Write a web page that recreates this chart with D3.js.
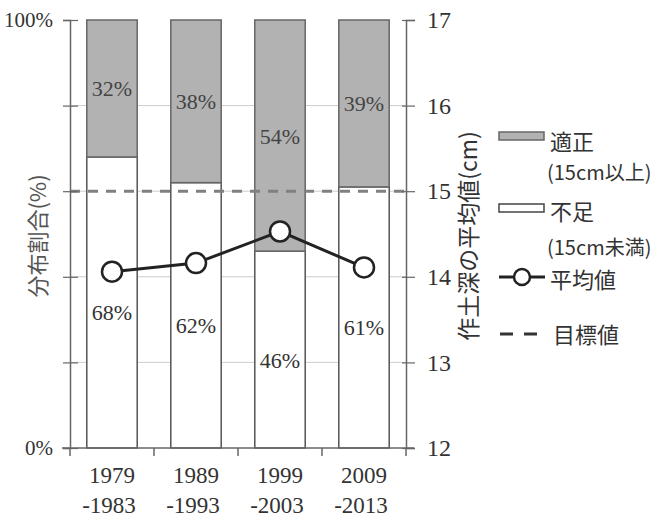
<!DOCTYPE html>
<html lang="ja">
<head>
<meta charset="UTF-8">
<title>作土深の分布割合と平均値</title>
<script src="https://d3js.org/d3.v7.min.js"></script>
<style>
  body { margin: 0; background: #fff; }
  svg { display: block; }
</style>
</head>
<body>
<svg id="chart" width="664" height="518"></svg>
<script>
  // data
  const periods = [["1979", "-1983"], ["1989", "-1993"], ["1999", "-2003"], ["2009", "-2013"]];
  const shortage = [68, 62, 46, 61];   // 不足 (15cm未満) %
  const adequate = [32, 38, 54, 39];   // 適正 (15cm以上) %
  const meanDepth = [14.06, 14.16, 14.53, 14.11]; // 平均値 cm
  const target = 15;                   // 目標値 cm
  const leftTicks = [0, 20, 40, 60, 80, 100];
  const rightTicks = [12, 13, 14, 15, 16, 17];

  const serif = "'Liberation Serif', 'Times New Roman', serif";
  const jp = "'Noto Sans CJK JP', sans-serif";

  const svg = d3.select("#chart");
  const plotL = 70, plotR = 406, plotT = 20, plotB = 448;

  const x = d3.scaleBand().domain(periods.map(d => d[0]))
    .range([plotL, plotR]).paddingInner(0.4).paddingOuter(0.2);
  const yPct = d3.scaleLinear().domain([0, 100]).range([plotB, plotT]);
  const yCm = d3.scaleLinear().domain([12, 17]).range([plotB, plotT]);

  // faint gridlines
  svg.append("g").selectAll("line").data(leftTicks.slice(1, -1)).join("line")
    .attr("x1", plotL).attr("x2", plotR)
    .attr("y1", d => yPct(d)).attr("y2", d => yPct(d))
    .attr("stroke", "#cccccc").attr("stroke-width", 1);

  // stacked bars
  const bars = svg.append("g");
  periods.forEach((p, i) => {
    const bx = x(p[0]), bw = x.bandwidth();
    bars.append("rect")
      .attr("x", bx).attr("width", bw)
      .attr("y", yPct(shortage[i])).attr("height", yPct(0) - yPct(shortage[i]))
      .attr("fill", "#fff").attr("stroke", "#555").attr("stroke-width", 1.5);
    bars.append("rect")
      .attr("x", bx).attr("width", bw)
      .attr("y", yPct(100)).attr("height", yPct(shortage[i]) - yPct(100))
      .attr("fill", "#b2b2b2").attr("stroke", "#666").attr("stroke-width", 1.5);

    bars.append("text")
      .attr("x", bx + bw / 2).attr("y", (yPct(100) + yPct(shortage[i])) / 2 + 8)
      .attr("text-anchor", "middle").attr("font-family", serif).attr("font-size", 22)
      .attr("fill", "#444").text(adequate[i] + "%");
    bars.append("text")
      .attr("x", bx + bw / 2).attr("y", (yPct(0) + yPct(shortage[i])) / 2 + 18)
      .attr("text-anchor", "middle").attr("font-family", serif).attr("font-size", 22)
      .attr("fill", "#333").text(shortage[i] + "%");
  });

  // target line
  svg.append("line")
    .attr("x1", plotL).attr("x2", plotR)
    .attr("y1", yCm(target)).attr("y2", yCm(target))
    .attr("stroke", "#808080").attr("stroke-width", 3).attr("stroke-dasharray", "10,8");

  // axes
  const axisColor = "#666";
  const leftAxis = svg.append("g").attr("transform", `translate(${plotL},0)`)
    .call(d3.axisLeft(yPct).tickValues(leftTicks).tickSize(7)
      .tickFormat(d => (d === 0 || d === 100) ? d + "%" : ""));
  const rightAxis = svg.append("g").attr("transform", `translate(${plotR},0)`)
    .call(d3.axisRight(yCm).tickValues(rightTicks).tickSize(9).tickFormat(d3.format("d")));
  [leftAxis, rightAxis].forEach(g => {
    g.attr("font-family", serif);
    g.select(".domain").attr("stroke", axisColor).attr("stroke-width", 1.5);
    g.selectAll(".tick line").attr("stroke", axisColor).attr("stroke-width", 1.2);
    g.selectAll("text").attr("font-family", serif).attr("fill", "#333");
  });
  leftAxis.selectAll(".tick line").attr("x1", 8);
  leftAxis.selectAll("text").attr("x", -17).attr("font-size", 21);
  rightAxis.selectAll(".tick line").attr("x1", -4);
  rightAxis.selectAll("text").attr("x", 21).attr("font-size", 24);

  // bottom axis
  const bAxis = svg.append("g").attr("transform", `translate(0,${plotB})`);
  bAxis.append("line").attr("x1", plotL - 8).attr("x2", plotR + 8)
    .attr("stroke", axisColor).attr("stroke-width", 1.5);
  d3.range(5).forEach(k => {
    const tx = plotL + k * (plotR - plotL) / 4;
    bAxis.append("line").attr("x1", tx).attr("x2", tx).attr("y1", 0).attr("y2", 8)
      .attr("stroke", axisColor).attr("stroke-width", 1.5);
  });
  periods.forEach(p => {
    const cx = x(p[0]) + x.bandwidth() / 2;
    bAxis.append("text").attr("x", cx).attr("y", 35)
      .attr("text-anchor", "middle").attr("font-family", serif).attr("font-size", 23)
      .attr("fill", "#333").text(p[0]);
    bAxis.append("text").attr("x", cx - 3).attr("y", 65)
      .attr("text-anchor", "middle").attr("font-family", serif).attr("font-size", 23)
      .attr("fill", "#333").text(p[1]);
  });

  // mean line
  const line = d3.line().x((d, i) => x(periods[i][0]) + x.bandwidth() / 2).y(d => yCm(d));
  svg.append("path").datum(meanDepth).attr("d", line)
    .attr("fill", "none").attr("stroke", "#222").attr("stroke-width", 3);
  svg.append("g").selectAll("circle").data(meanDepth).join("circle")
    .attr("cx", (d, i) => x(periods[i][0]) + x.bandwidth() / 2)
    .attr("cy", d => yCm(d)).attr("r", 10)
    .attr("fill", "#fff").attr("stroke", "#222").attr("stroke-width", 2.5);

  // axis titles
  svg.append("text")
    .attr("transform", "translate(46,236) rotate(-90)")
    .attr("text-anchor", "middle").attr("font-family", jp).attr("font-size", 22)
    .attr("fill", "#555").text("分布割合(%)");
  svg.append("text")
    .attr("transform", "translate(477,236) rotate(-90)")
    .attr("text-anchor", "middle").attr("font-family", jp).attr("font-size", 23)
    .attr("fill", "#333").text("作土深の平均値(cm)");

  // legend
  const lg = svg.append("g").attr("font-family", jp).attr("fill", "#333");
  lg.append("rect").attr("x", 499).attr("y", 132).attr("width", 45).attr("height", 8)
    .attr("fill", "#b2b2b2").attr("stroke", "#666").attr("stroke-width", 1.5);
  lg.append("text").attr("x", 550).attr("y", 150).attr("font-size", 22).text("適正");
  lg.append("text").attr("x", 547).attr("y", 180).attr("font-size", 20).text("(15cm以上)");
  lg.append("rect").attr("x", 499).attr("y", 204).attr("width", 45).attr("height", 8)
    .attr("fill", "#fff").attr("stroke", "#444").attr("stroke-width", 1.5);
  lg.append("text").attr("x", 550).attr("y", 220).attr("font-size", 22).text("不足");
  lg.append("text").attr("x", 547).attr("y", 255).attr("font-size", 20).text("(15cm未満)");
  lg.append("line").attr("x1", 499).attr("x2", 545).attr("y1", 277).attr("y2", 277)
    .attr("stroke", "#222").attr("stroke-width", 3);
  lg.append("circle").attr("cx", 522).attr("cy", 277).attr("r", 8)
    .attr("fill", "#fff").attr("stroke", "#222").attr("stroke-width", 2.5);
  lg.append("text").attr("x", 550).attr("y", 288).attr("font-size", 22).text("平均値");
  lg.append("line").attr("x1", 500).attr("x2", 538).attr("y1", 334).attr("y2", 334)
    .attr("stroke", "#333").attr("stroke-width", 3).attr("stroke-dasharray", "13,11");
  lg.append("text").attr("x", 553).attr("y", 343).attr("font-size", 22).text("目標値");
</script>
</body>
</html>
